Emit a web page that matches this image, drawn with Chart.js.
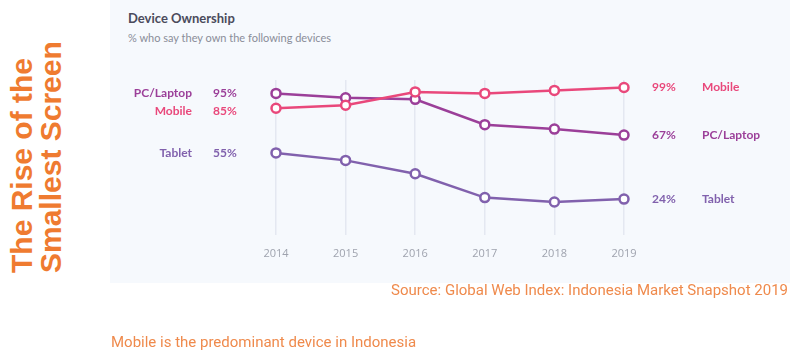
<!DOCTYPE html>
<html>
<head>
<meta charset="utf-8">
<script src="https://cdn.jsdelivr.net/npm/chart.js@4.4.0/dist/chart.umd.min.js"></script>
<style>
  body { margin: 0; width: 800px; height: 361px; background: #fff; position: relative; overflow: hidden; font-family: Lato, sans-serif; }
  .panel { position: absolute; left: 110px; top: 0; width: 680px; height: 283px; background: #f6f9fd; }
  .side-title { position: absolute; left: 7px; top: 40px; height: 233px; writing-mode: vertical-rl; transform: rotate(180deg);
    font-family: "Liberation Sans", Arial, sans-serif; font-weight: bold; font-size: 30px; line-height: 29px; color: #ef7b30; white-space: nowrap; }
  .title { position: absolute; left: 128px; top: 10px; font-size: 13px; font-weight: bold; color: #4b4b5c; }
  .subtitle { position: absolute; left: 128px; top: 31px; font-size: 11px; color: #8a8d99; }
  .source { position: absolute; right: 12px; top: 281px; font-family: Roboto, sans-serif; font-size: 15px; color: #ef8a4c; }
  .note { position: absolute; left: 111px; top: 333px; font-family: Roboto, sans-serif; font-size: 15px; color: #ef8a4c; }
  #chart { position: absolute; left: 0; top: 0; }
</style>
</head>
<body>
<div class="panel"></div>
<div class="side-title">The Rise of the<br>Smallest Screen</div>
<div class="title">Device Ownership</div>
<div class="subtitle">% who say they own the following devices</div>
<canvas id="chart" width="800" height="361"></canvas>
<div class="source">Source: Global Web Index: Indonesia Market Snapshot 2019</div>
<div class="note">Mobile is the predominant device in Indonesia</div>
<script>
const years = ["2014", "2015", "2016", "2017", "2018", "2019"];
const seriesNames = ["Mobile", "PC/Laptop", "Tablet"];
const mobile = [85, 87, 96, 95, 97, 99];
const pcLaptop = [95, 92, 91, 74, 71, 67];
const tablet = [55, 50, 41, 25, 22, 24];
const seriesColors = ["#e9487b", "#9b3f99", "#8161ad"];

// little nudges so the left labels do not collide
const leftNudge = [3, 0, 0];

const endLabels = {
  id: "endLabels",
  afterDatasetsDraw(chart) {
    const ctx = chart.ctx;
    ctx.save();
    ctx.font = "bold 12px Lato, sans-serif";
    ctx.textBaseline = "middle";
    chart.data.datasets.forEach((ds, i) => {
      const pts = chart.getDatasetMeta(i).data;
      const first = pts[0];
      const last = pts[pts.length - 1];
      ctx.fillStyle = ds.borderColor;
      const yl = first.y + leftNudge[i];
      ctx.textAlign = "right";
      ctx.fillText(ds.label, first.x - 84, yl);
      ctx.textAlign = "left";
      ctx.fillText(ds.data[0] + "%", first.x - 63, yl);
      ctx.fillText(ds.data[ds.data.length - 1] + "%", last.x + 28, last.y);
      ctx.fillText(ds.label, last.x + 78, last.y);
    });
    ctx.restore();
  },
};

function makeSet(name, values, color) {
  return {
    label: name,
    data: values,
    borderColor: color,
    backgroundColor: "#ffffff",
    borderWidth: 2.5,
    pointRadius: 4.5,
    pointBorderWidth: 2.5,
    pointBackgroundColor: "#ffffff",
    pointBorderColor: color,
    tension: 0,
    clip: false,
  };
}

new Chart(document.getElementById("chart"), {
  type: "line",
  data: {
    labels: years,
    datasets: [
      makeSet(seriesNames[0], mobile, seriesColors[0]),
      makeSet(seriesNames[1], pcLaptop, seriesColors[1]),
      makeSet(seriesNames[2], tablet, seriesColors[2]),
    ],
  },
  options: {
    responsive: false,
    animation: false,
    layout: { padding: { left: 276, right: 176, top: 80, bottom: 89 } },
    plugins: { legend: { display: false }, tooltip: { enabled: false } },
    scales: {
      y: { display: false, min: 0, max: 104 },
      x: {
        offset: false,
        grid: { color: "#e4e8f1", lineWidth: 1.5, drawTicks: false },
        border: { display: false },
        ticks: { padding: 12, color: "#9fa3ae", font: { family: "Open Sans", size: 11 } },
      },
    },
  },
  plugins: [endLabels],
});
</script>
</body>
</html>
